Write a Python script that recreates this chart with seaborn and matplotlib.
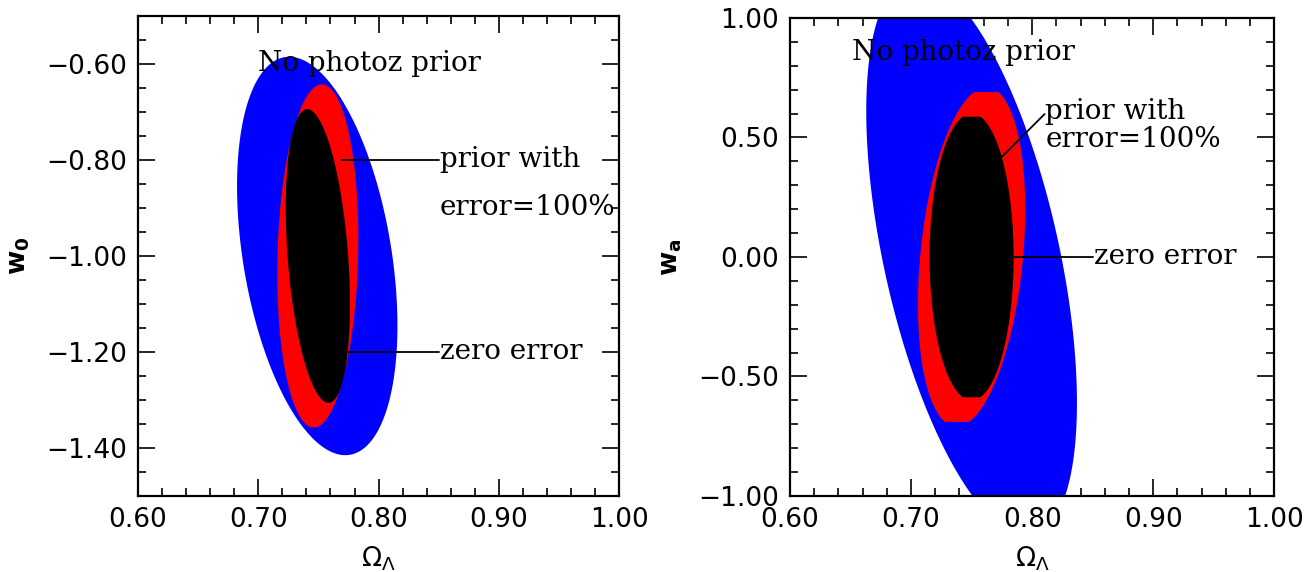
import numpy as np
import pandas as pd
import matplotlib
matplotlib.use("Agg")
import matplotlib.pyplot as plt
from matplotlib.ticker import MultipleLocator, FuncFormatter
import seaborn as sns

# ---------------- data ----------------
# contour names (outer -> inner) and colours
contours = ["no prior", "prior 100%", "zero error"]
colors = ["#0000ff", "#ff0000", "#000000"]

# Left panel: Omega_Lambda vs w0  (centre, half-extent x, half-extent y, correlation)
w0_cx = [0.749, 0.7495, 0.7495]
w0_cy = [-1.00, -1.00, -1.00]
w0_sx = [0.0667, 0.0337, 0.0267]
w0_sy = [0.415, 0.3575, 0.306]
w0_rho = [-0.35, 0.10, -0.33]
w0_ylim_grid = [None, None, None]

# Right panel: Omega_Lambda vs wa
wa_cx = [0.750, 0.750, 0.750]
wa_cy = [0.0, 0.0, 0.0]
wa_sx = [0.087, 0.0443, 0.0347]
wa_sy = [1.167, 0.71, 0.60]
wa_rho = [-0.523, 0.28, 0.0]
wa_ylim_grid = [None, 0.69, 0.587]

xticks = [0.60, 0.70, 0.80, 0.90, 1.00]
w0_ticks = [-0.60, -0.80, -1.00, -1.20, -1.40]
wa_ticks = [-1.00, -0.50, 0.00, 0.50, 1.00]


def outline(cx, cy, sx, sy, rho, lim, n=400):
    t = np.linspace(0, 2 * np.pi, n)
    x = cx + sx * np.cos(t)
    y = cy + sy * (rho * np.cos(t) + np.sqrt(1 - rho ** 2) * np.sin(t))
    if lim is not None:
        y = np.clip(y, cy - lim, cy + lim)
    return x, y


def build(cx, cy, sx, sy, rho, lims):
    frames = []
    for i, name in enumerate(contours):
        x, y = outline(cx[i], cy[i], sx[i], sy[i], rho[i], lims[i])
        frames.append(pd.DataFrame({"x": x, "y": y, "contour": name}))
    return pd.concat(frames, ignore_index=True)


df_w0 = build(w0_cx, w0_cy, w0_sx, w0_sy, w0_rho, w0_ylim_grid)
df_wa = build(wa_cx, wa_cy, wa_sx, wa_sy, wa_rho, wa_ylim_grid)

# ---------------- style ----------------
sns.set_theme(style="ticks")
plt.rcParams["font.family"] = ["DejaVu Sans"]
plt.rcParams["text.color"] = "black"
plt.rcParams["axes.labelcolor"] = "black"
plt.rcParams["xtick.color"] = "black"
plt.rcParams["ytick.color"] = "black"

fig = plt.figure(figsize=(13.09, 5.72), dpi=100)
axL = fig.add_axes([0.1055, 0.1329, 0.3674, 0.8392])
axR = fig.add_axes([0.6035, 0.1329, 0.3700, 0.8357])

serif = "DejaVu Serif"
tfs = 20
lfs = 19

fmt = FuncFormatter(lambda v, p: ("%.2f" % v).replace("-", "\u2212"))


def style_axes(ax, ylim, ymin, yticks):
    ax.set_xlim(0.6, 1.0)
    ax.set_ylim(*ylim)
    ax.set_xticks(xticks)
    ax.set_yticks(yticks)
    ax.xaxis.set_minor_locator(MultipleLocator(0.02))
    ax.yaxis.set_minor_locator(MultipleLocator(ymin))
    ax.xaxis.set_major_formatter(fmt)
    ax.yaxis.set_major_formatter(fmt)
    ax.tick_params(which="both", direction="in", top=True, right=True,
                   color="black", width=1.2)
    ax.tick_params(which="major", length=12, labelsize=lfs, pad=8, labelcolor="black")
    ax.tick_params(which="minor", length=6)
    for s in ax.spines.values():
        s.set_linewidth(1.6)
        s.set_color("black")
    ax.set_xlabel(r"$\Omega_\Lambda$", fontsize=19, labelpad=8, color="black")


def draw(ax, df):
    for name, col in zip(contours, colors):
        sub = df[df["contour"] == name]
        ax.fill(sub["x"], sub["y"], color=col, lw=0, zorder=2)


tkw = dict(fontsize=tfs, family=serif, va="center", ha="left", color="black")

draw(axL, df_w0)
style_axes(axL, (-1.5, -0.5), 0.05, w0_ticks)
axL.set_ylabel(r"$\mathbf{w_0}$", fontsize=19, labelpad=10, color="black")
axL.text(0.700, -0.60, "No photoz prior", **tkw)
axL.text(0.851, -0.80, "prior with", **tkw)
axL.text(0.851, -0.90, "error=100%", **tkw)
axL.text(0.851, -1.20, "zero error", **tkw)
axL.plot([0.770, 0.850], [-0.80, -0.80], color="black", lw=1.3, zorder=3)
axL.plot([0.7747, 0.850], [-1.20, -1.20], color="black", lw=1.3, zorder=3)

draw(axR, df_wa)
style_axes(axR, (-1.0, 1.0), 0.1, wa_ticks)
axR.set_ylabel(r"$\mathbf{w_a}$", fontsize=19, labelpad=10, color="black")
axR.text(0.651, 0.856, "No photoz prior", **tkw)
axR.text(0.811, 0.61, "prior with", **tkw)
axR.text(0.811, 0.49, "error=100%", **tkw)
axR.text(0.851, 0.0, "zero error", **tkw)
axR.plot([0.8103, 0.7736], [0.598, 0.412], color="black", lw=1.3, zorder=3)
axR.plot([0.7848, 0.850], [0.0, 0.0], color="black", lw=1.3, zorder=3)

fig.savefig("out.png", dpi=100)
